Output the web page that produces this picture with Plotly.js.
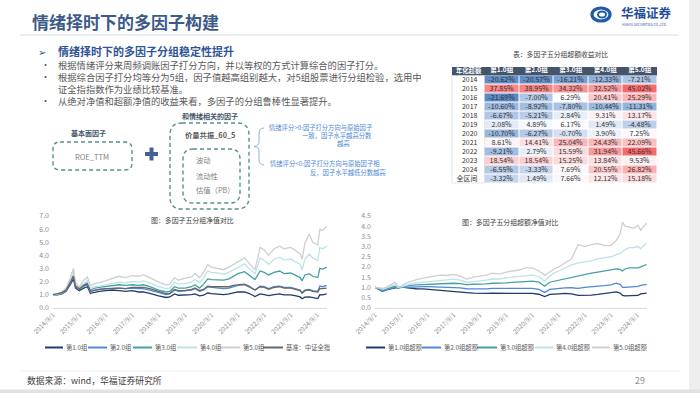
<!DOCTYPE html>
<html><head><meta charset="utf-8">
<script src="https://cdn.plot.ly/plotly-3.0.1.min.js"></script>
<style>html,body{margin:0;padding:0;background:#fff}#c{width:700px;height:393px}</style>
</head><body><div id="c"></div>
<script>
// ---------- data: absolute net value (left chart) ----------
const L_dates = ['2014-09-01','2014-11-01','2015-01-01','2015-03-01','2015-05-01','2015-06-10','2015-07-10','2015-09-01','2015-11-01','2015-12-20','2016-02-01','2016-04-01','2016-06-01','2016-09-01','2016-12-01','2017-03-01','2017-06-01','2017-09-01','2017-12-01','2018-02-01','2018-05-01','2018-09-01','2018-12-15','2019-02-01','2019-04-10','2019-06-01','2019-09-01','2019-12-01','2020-01-15','2020-03-20','2020-05-15','2020-07-10','2020-09-01','2020-12-01','2021-02-15','2021-05-01','2021-07-01','2021-09-01','2021-12-01','2022-02-01','2022-04-25','2022-07-05','2022-09-01','2022-10-31','2023-01-15','2023-04-01','2023-06-01','2023-09-01','2023-11-15','2024-01-10','2024-02-05','2024-03-15','2024-05-15','2024-07-01','2024-09-10','2024-10-08','2024-11-15','2025-01-10'];
const L_g1 = [1.0,0.98,1.05,1.25,1.8,2.2,1.5,1.3,1.5,1.6,1.1,1.2,1.25,1.3,1.35,1.3,1.25,1.3,1.2,1.2,1.1,0.9,0.78,0.82,1.05,0.95,0.95,1.0,1.05,0.9,0.95,1.12,1.08,1.02,1.0,1.05,1.1,1.2,1.2,1.1,0.85,1.05,1.0,0.92,1.0,1.05,0.98,0.98,0.9,0.82,0.68,0.8,0.82,0.75,0.7,1.0,0.98,1.05];
const L_g2 = [1.0,1.0,1.1,1.3,1.9,2.4,1.6,1.4,1.65,1.75,1.2,1.35,1.4,1.45,1.5,1.5,1.45,1.5,1.45,1.45,1.35,1.15,1.0,1.05,1.35,1.25,1.3,1.35,1.45,1.25,1.35,1.6,1.55,1.5,1.45,1.5,1.6,1.7,1.75,1.6,1.35,1.65,1.6,1.45,1.6,1.65,1.55,1.55,1.45,1.35,1.15,1.35,1.4,1.3,1.25,1.65,1.6,1.7];
const L_g3 = [1.0,1.02,1.12,1.35,2.0,2.55,1.7,1.45,1.75,1.9,1.35,1.5,1.55,1.6,1.7,1.75,1.7,1.75,1.7,1.75,1.6,1.35,1.2,1.25,1.6,1.5,1.5,1.6,1.75,1.5,1.8,2.2,2.15,2.1,2.1,2.2,2.4,2.6,2.75,2.5,2.15,2.8,2.7,2.5,2.7,2.8,2.6,2.65,2.45,2.3,2.05,2.5,2.6,2.4,2.3,3.0,2.95,3.1];
const L_g4 = [1.0,1.03,1.15,1.4,2.1,2.7,1.75,1.5,1.85,2.05,1.45,1.6,1.65,1.75,1.85,1.95,1.9,2.0,1.95,2.05,1.9,1.6,1.45,1.5,1.95,1.8,1.85,1.95,2.15,1.9,2.3,2.8,2.7,2.65,2.55,2.7,2.9,3.1,3.35,3.0,2.6,3.8,3.6,3.3,3.7,3.85,3.65,3.7,3.45,3.3,2.9,3.7,4.1,3.8,3.6,4.6,4.5,4.7];
const L_g5 = [1.0,1.05,1.2,1.5,2.3,3.0,1.9,1.6,2.1,2.35,1.65,1.85,1.9,2.05,2.2,2.4,2.3,2.45,2.4,2.5,2.3,1.95,1.75,1.8,2.3,2.1,2.25,2.35,2.6,2.3,2.7,3.3,3.1,3.0,2.9,3.1,3.3,3.5,3.8,3.4,2.9,4.6,4.4,4.0,4.5,4.7,4.5,4.6,4.3,4.1,3.7,4.9,5.6,5.0,4.8,6.0,5.9,6.2];
const L_bench = [1.0,1.05,1.15,1.35,1.95,2.4,1.65,1.45,1.7,1.8,1.25,1.35,1.4,1.45,1.5,1.5,1.45,1.55,1.55,1.55,1.45,1.25,1.05,1.1,1.4,1.3,1.3,1.4,1.5,1.3,1.4,1.65,1.6,1.6,1.6,1.6,1.7,1.75,1.8,1.65,1.35,1.6,1.55,1.4,1.55,1.6,1.5,1.5,1.4,1.3,1.1,1.3,1.35,1.25,1.2,1.45,1.45,1.5];
const L_names = ['第1.0组','第2.0组','第3.0组','第4.0组','第5.0组','基准：中证全指'];

// ---------- data: excess net value (right chart) ----------
const R_dates = ['2014-09-01','2014-11-01','2014-12-20','2015-02-01','2015-04-01','2015-06-10','2015-07-15','2015-09-01','2015-11-01','2016-01-15','2016-04-01','2016-07-01','2016-09-01','2016-12-01','2017-03-01','2017-06-01','2017-09-01','2017-12-01','2018-03-01','2018-06-01','2018-09-01','2018-12-01','2019-03-01','2019-06-01','2019-09-01','2019-12-01','2020-03-01','2020-06-01','2020-09-01','2020-12-01','2021-02-20','2021-05-01','2021-07-01','2021-09-01','2021-12-01','2022-03-01','2022-06-01','2022-09-01','2022-12-01','2023-03-01','2023-06-01','2023-09-01','2023-11-15','2024-01-05','2024-02-10','2024-03-15','2024-05-15','2024-07-15','2024-09-10','2024-10-20','2024-12-01','2025-01-10'];
const R_g1 = [1.0,0.9,0.8,0.88,0.92,0.97,1.0,1.03,0.98,0.95,0.93,0.92,0.9,0.86,0.83,0.8,0.78,0.76,0.74,0.72,0.7,0.7,0.71,0.7,0.7,0.7,0.7,0.7,0.7,0.66,0.55,0.65,0.68,0.68,0.7,0.68,0.6,0.6,0.62,0.65,0.7,0.75,0.78,0.72,0.6,0.58,0.58,0.6,0.6,0.68,0.7,0.72];
const R_g2 = [1.0,0.9,0.8,0.88,0.93,1.0,0.95,1.0,1.0,1.02,1.03,1.03,1.03,1.02,1.02,1.0,1.0,0.97,0.93,0.92,0.92,0.92,0.95,0.94,0.95,0.95,0.95,0.95,0.95,0.9,0.75,0.9,0.93,0.95,0.97,0.98,0.95,1.0,1.02,1.05,1.08,1.12,1.2,1.15,1.0,1.0,1.02,1.03,1.05,1.1,1.12,1.15];
const R_g3 = [1.0,0.95,0.85,0.92,0.98,1.05,0.98,1.0,1.05,1.1,1.12,1.14,1.15,1.17,1.19,1.2,1.2,1.18,1.13,1.15,1.15,1.17,1.2,1.2,1.22,1.24,1.26,1.28,1.3,1.25,1.05,1.25,1.3,1.35,1.42,1.5,1.58,1.65,1.7,1.75,1.8,1.85,1.9,1.88,1.8,1.9,1.95,1.95,1.95,2.0,2.05,2.12];
const R_g4 = [1.0,0.97,0.9,0.95,1.05,1.15,1.0,1.02,1.1,1.18,1.22,1.25,1.28,1.32,1.36,1.37,1.4,1.35,1.25,1.28,1.3,1.35,1.42,1.4,1.47,1.5,1.55,1.58,1.6,1.52,1.3,1.55,1.7,1.8,1.95,2.1,2.2,2.25,2.3,2.4,2.45,2.5,2.6,2.65,2.75,2.85,2.95,2.95,3.0,2.9,3.05,3.15];
const R_g5 = [1.0,0.98,0.95,1.0,1.1,1.25,1.05,1.05,1.2,1.3,1.38,1.45,1.5,1.55,1.6,1.58,1.63,1.55,1.4,1.5,1.55,1.6,1.7,1.65,1.75,1.8,1.85,1.95,1.95,1.8,1.6,1.75,1.9,2.0,2.2,2.4,3.1,3.0,3.1,3.15,3.05,3.05,3.3,3.6,4.2,4.0,3.95,3.9,4.05,3.8,4.0,4.15];
const R_names = ['第1.0组超额','第2.0组超额','第3.0组超额','第4.0组超额','第5.0组超额'];

// ---------- data: table ----------
const T_corner = '年化超额';
const T_groups = ['第1.0组','第2.0组','第3.0组','第4.0组','第5.0组'];
const T_years = ['2014','2015','2016','2017','2018','2019','2020','2021','2022','2023','2024','全区间'];
const T_g1 = [-20.62,37.85,-21.69,-10.60,-6.67,2.08,-10.70,8.61,-9.21,18.54,-6.55,-3.32];
const T_g2 = [-20.57,38.95,-7.00,-8.92,-5.21,4.89,-6.27,14.41,2.79,18.54,-3.33,1.49];
const T_g3 = [-16.21,34.32,6.29,-7.80,2.84,6.17,-0.70,25.04,15.59,15.25,7.69,7.66];
const T_g4 = [-12.33,32.52,20.41,-10.44,9.31,1.49,3.90,24.43,31.94,13.84,20.55,12.12];
const T_g5 = [-7.21,45.02,25.29,-11.31,13.17,-4.48,7.25,22.09,45.66,9.53,26.82,15.18];

const X_ticks = ['2014-09-01','2015-09-01','2016-09-01','2017-09-01','2018-09-01','2019-09-01','2020-09-01','2021-09-01','2022-09-01','2023-09-01','2024-09-01'];

// ---------- styles ----------
const COLORS = ['#1f3a6e','#4f86dc','#45a0a2','#bfe2e9','#cfcfcf','#676767'];
const FONT = '"Noto Sans CJK SC", "Noto Sans", sans-serif';
const W = 700, H = 393;
const fx = x => x / W, fy = y => 1 - y / H;

const traces = [];
[L_g1, L_g2, L_g3, L_g4, L_g5, L_bench].forEach((s, i) => {
  traces.push({type:'scatter', mode:'lines', x:L_dates, y:s, name:L_names[i], xaxis:'x', yaxis:'y',
    line:{color:COLORS[i], width:1.3}, showlegend:false, hoverinfo:'skip'});
});
[R_g1, R_g2, R_g3, R_g4, R_g5].forEach((s, i) => {
  traces.push({type:'scatter', mode:'lines', x:R_dates, y:s, name:R_names[i], xaxis:'x2', yaxis:'y2',
    line:{color:COLORS[i], width:1.3}, showlegend:false, hoverinfo:'skip'});
});

// table as heatmap (3-colour scale: min blue, median white, max red)
const groups = [T_g1, T_g2, T_g3, T_g4, T_g5];
const allT = [].concat(...groups);
const sorted = [...allT].sort((a,b)=>a-b);
const tMin = sorted[0], tMax = sorted[sorted.length-1];
const tMid = (sorted[Math.floor((sorted.length-1)/2)] + sorted[Math.ceil((sorted.length-1)/2)]) / 2;
const zMatrix = T_years.map((_, r) => groups.map(g => g[r]));
traces.push({
  type:'heatmap', x:T_groups, y:T_years, z:zMatrix, xaxis:'x3', yaxis:'y3',
  zmin:tMin, zmax:tMax, showscale:false, xgap:1, ygap:1, hoverinfo:'skip',
  colorscale:[[0,'rgb(90,138,198)'],[(tMid-tMin)/(tMax-tMin),'rgb(252,252,255)'],[1,'rgb(248,105,107)']],
  texttemplate:'%{z:.2f}%', textfont:{family:FONT, size:7, color:'#333333'}
});

// ---------- shapes & annotations ----------
function rr(x0,y0,x1,y1,r){
  const P=(x,y)=>fx(x).toFixed(5)+','+fy(y).toFixed(5);
  return `M${P(x0+r,y0)} L${P(x1-r,y0)} Q${P(x1,y0)} ${P(x1,y0+r)} L${P(x1,y1-r)} Q${P(x1,y1)} ${P(x1-r,y1)} L${P(x0+r,y1)} Q${P(x0,y1)} ${P(x0,y1-r)} L${P(x0,y0+r)} Q${P(x0,y0)} ${P(x0+r,y0)} Z`;
}
function pth(pts){ return pts.map(p=>p[0]+fx(p[1]).toFixed(5)+','+fy(p[2]).toFixed(5)).join(' '); }
const dashLine = {color:'#5a8f8f', width:1.4, dash:'4px,3px'};
const shapes = [
  {type:'rect', xref:'paper', yref:'paper', x0:fx(689), x1:1, y0:0, y1:1, fillcolor:'#eeeeee', line:{width:0}, layer:'below'},
  {type:'rect', xref:'paper', yref:'paper', x0:0, x1:1, y0:0, y1:fy(389.5), fillcolor:'#e2e2e2', line:{width:0}, layer:'below'},
  {type:'line', xref:'paper', yref:'paper', x0:fx(20), x1:fx(679), y0:fy(35), y1:fy(35), line:{color:'#e9eef4', width:2}},
  {type:'line', xref:'paper', yref:'paper', x0:fx(20), x1:fx(679), y0:fy(371), y1:fy(371), line:{color:'#eeeeee', width:1}},
  {type:'path', xref:'paper', yref:'paper', path:rr(53,142,132,170,7), line:dashLine},
  {type:'path', xref:'paper', yref:'paper', path:rr(170,123,249,209,12), line:dashLine},
  {type:'path', xref:'paper', yref:'paper', path:rr(183,149,240,203,10), line:dashLine},
  {type:'line', xref:'paper', yref:'paper', x0:fx(145), x1:fx(158), y0:fy(154), y1:fy(154), line:{color:'#44619a', width:4}},
  {type:'line', xref:'paper', yref:'paper', x0:fx(151.5), x1:fx(151.5), y0:fy(147.5), y1:fy(160.5), line:{color:'#44619a', width:4}},
  {type:'path', xref:'paper', yref:'paper', line:{color:'#8fb1de', width:1},
    path:pth([['M',264,128],['Q',259,128],['',259,134],['L',259,142],['Q',259,146],['',254,146.5],['Q',259,147],['',259,151],['L',259,159],['Q',259,165],['',264,165]])},
  {type:'circle', xref:'paper', yref:'paper', x0:fx(592), x1:fx(610), y0:fy(21), y1:fy(8), line:{color:'#1f5aa6', width:3.2}},
  {type:'circle', xref:'paper', yref:'paper', x0:fx(598), x1:fx(606), y0:fy(17.5), y1:fy(11.5), line:{color:'#1f5aa6', width:2}},
  {type:'rect', xref:'paper', yref:'paper', x0:fx(452), x1:fx(657), y0:fy(75.5), y1:fy(67), fillcolor:'#44546a', line:{width:0}, layer:'below'},
  {type:'rect', xref:'paper', yref:'paper', x0:fx(452), x1:fx(484.5), y0:fy(183), y1:fy(75.5), fillcolor:'rgba(0,0,0,0)', line:{color:'#d9d9d9', width:0.7}, layer:'below'}
];

const legL = [[45,63,65],[88,107,109],[133,152,154],[177,197,199],[220,240,242],[263,283,285]];
const legR = [[366,385,387],[422,441,443],[477,497,499],[535,553,555],[592,610,612]];
const annotations = [];
function ann(text,x,y,size,color,opt){
  annotations.push(Object.assign({xref:'paper', yref:'paper', x:fx(x), y:fy(y), text:text, showarrow:false,
    xanchor:'left', yanchor:'middle', borderpad:0, font:{family:FONT, size:size, color:color}}, opt||{}));
}
legL.forEach((p,i)=>{
  shapes.push({type:'line', xref:'paper', yref:'paper', x0:fx(p[0]), x1:fx(p[1]), y0:fy(347.5), y1:fy(347.5), line:{color:COLORS[i], width:2}});
  ann(L_names[i], p[2], 347.5, 6.3, '#595959');
});
legR.forEach((p,i)=>{
  shapes.push({type:'line', xref:'paper', yref:'paper', x0:fx(p[0]), x1:fx(p[1]), y0:fy(347.5), y1:fy(347.5), line:{color:COLORS[i], width:2}});
  ann(R_names[i], p[2], 347.5, 6.3, '#595959');
});

ann('<b>情绪择时下的多因子构建</b>', 31, 22, 17, '#3d5a89');
ann('<b>华福证券</b>', 620, 12.5, 12.5, '#1f4e9c');
ann('HUAFU SECURITIES CO.,LTD.', 621, 24.5, 3.4, '#1f4e9c');
ann('➢', 37, 51.5, 10, '#2f5597');
ann('<b>情绪择时下的多因子分组稳定性提升</b>', 57, 51.5, 11, '#2f5597', {height:12});
const bullets = [
  ['•', '根据情绪评分来周频调账因子打分方向，并以等权的方式计算综合的因子打分。', 64.5],
  ['•', '根据综合因子打分均等分为5组，因子值越高组别越大，对5组股票进行分组检验，选用中', 76.5],
  ['',  '证全指指数作为业绩比较基准。', 88.5],
  ['•', '从绝对净值和超额净值的收益来看，多因子的分组鲁棒性显著提升。', 100.5]
];
bullets.forEach(b=>{
  if(b[0]) ann(b[0], 40, b[2], 9, '#595959', {height:11});
  ann(b[1], 57, b[2], 9.3, '#595959', {height:11});
});
ann('<b>基本面因子</b>', 88, 133, 7, '#44546a', {xanchor:'center'});
ann('ROE_TTM', 92, 156, 7.5, '#7f7f7f', {xanchor:'center'});
ann('<b>和情绪相关的因子</b>', 210, 116, 7, '#44546a', {xanchor:'center'});
ann('<b>价量共振_60_5</b>', 210, 135, 7.3, '#595959', {xanchor:'center'});
ann('波动', 195, 160, 7.3, '#7f7f7f');
ann('流动性', 195, 176, 7.3, '#7f7f7f');
ann('估值（PB）', 195, 190, 7.3, '#7f7f7f');
ann('情绪评分>0:因子打分方向与原始因子', 268, 127, 6.3, '#4f89d4');
ann('一致，因子水平越高分数', 337, 135.5, 6.3, '#4f89d4', {xanchor:'center'});
ann('越高', 343, 144, 6.3, '#4f89d4', {xanchor:'center'});
ann('情绪评分<0:因子打分方向与原始因子相', 269, 163, 6.3, '#4f89d4');
ann('反，因子水平越低分数越高', 348, 172, 6.3, '#4f89d4', {xanchor:'center'});
ann('表：多因子五分组超额收益对比', 560, 54, 6.8, '#404040', {xanchor:'center'});
ann('<b>' + T_corner + '</b>', 468.5, 70.8, 6.3, '#ffffff', {xanchor:'center', height:7.5});
ann('图：多因子五分组净值对比', 193, 220, 6.9, '#404040', {xanchor:'center'});
ann('图：多因子五分组超额净值对比', 510, 222, 6.9, '#404040', {xanchor:'center'});
ann('数据来源：wind，华福证券研究所', 26, 380.5, 8.8, '#404040');
ann('29', 640, 380.5, 8.8, '#8c8c8c', {xanchor:'center'});

const xCommon = {type:'date', tickvals:X_ticks, tickformat:'%Y/%-m/%-d', tickangle:-45,
  tickfont:{family:FONT, size:6.5, color:'#8c8c8c'}, showgrid:false, zeroline:false,
  showline:true, linecolor:'#d9d9d9', linewidth:1, ticks:'', fixedrange:true};
const yCommon = {showgrid:false, zeroline:false, showline:false, ticks:'', tickformat:'.1f',
  tickfont:{family:FONT, size:7, color:'#8c8c8c'}, ticklabelstandoff:3, fixedrange:true};

const layout = {
  width:W, height:H, margin:{l:0,r:0,t:0,b:0}, paper_bgcolor:'#ffffff', plot_bgcolor:'rgba(0,0,0,0)',
  font:{family:FONT}, showlegend:false,
  xaxis:Object.assign({}, xCommon, {domain:[fx(53), fx(327)], range:['2014-09-01','2025-01-15'], anchor:'y'}),
  yaxis:Object.assign({}, yCommon, {domain:[fy(307.7), fy(216)], range:[0,7], dtick:1, anchor:'x'}),
  xaxis2:Object.assign({}, xCommon, {domain:[fx(375), fx(647)], range:['2014-09-01','2025-01-15'], anchor:'y2'}),
  yaxis2:Object.assign({}, yCommon, {domain:[fy(307.7), fy(216)], range:[0,4.5], dtick:0.5, anchor:'x2'}),
  xaxis3:{domain:[fx(484.5), fx(657)], anchor:'y3', side:'top', type:'category', showgrid:false, zeroline:false,
    showline:false, ticks:'', ticklabelstandoff:1, fixedrange:true,
    tickfont:{family:FONT, size:6.6, color:'#ffffff', weight:'bold'}},
  yaxis3:{domain:[fy(183), fy(75.5)], anchor:'x3', type:'category', autorange:'reversed', showgrid:false, zeroline:false,
    showline:false, ticks:'', ticklabelstandoff:6, fixedrange:true,
    tickfont:{family:FONT, size:7, color:'#333333'}},
  shapes:shapes, annotations:annotations
};
Plotly.newPlot('c', traces, layout, {displayModeBar:false, staticPlot:true});
</script></body></html>
